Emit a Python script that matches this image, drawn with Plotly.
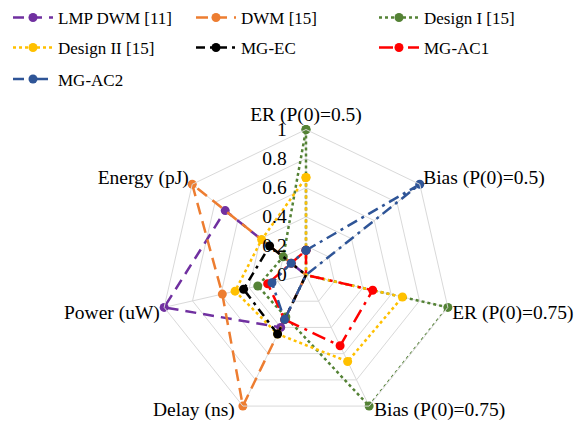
import math
import plotly.graph_objects as go

categories = ["ER (P(0)=0.5)", "Bias (P(0)=0.5)", "ER (P(0)=0.75)",
              "Bias (P(0)=0.75)", "Delay (ns)", "Power (uW)", "Energy (pJ)"]

lmp_dwm = [0.00, 0.00, 0.00, 0.00, 0.40, 1.00, 0.71]
dwm = [0.00, 0.00, 0.00, 0.00, 1.00, 0.59, 1.00]
design_1 = [1.00, 0.00, 1.00, 1.00, 0.32, 0.34, 0.20]
design_2 = [0.67, 0.00, 0.68, 0.66, 0.45, 0.50, 0.39]
mg_ec = [0.00, 0.00, 0.00, 0.00, 0.45, 0.44, 0.32]
mg_ac1 = [0.17, 0.00, 0.47, 0.54, 0.34, 0.27, 0.13]
mg_ac2 = [0.17, 1.00, 0.00, 0.00, 0.34, 0.24, 0.13]

radial_ticks = [0, 0.2, 0.4, 0.6, 0.8, 1.0]

series = [
    ("LMP DWM [11]", lmp_dwm, "#7030A0", "11px,7px", "legend"),
    ("DWM [15]", dwm, "#ED7D31", "12px,7px", "legend"),
    ("Design I [15]", design_1, "#548235", "dot", "legend"),
    ("Design II [15]", design_2, "#FFC000", "dot", "legend2"),
    ("MG-EC", mg_ec, "#000000", "9px,5px,3px,5px", "legend2"),
    ("MG-AC1", mg_ac1, "#FF0000", "14px,6px,3px,6px", "legend2"),
    ("MG-AC2", mg_ac2, "#2F5597", "11px,5px,3px,5px", "legend3"),
]

# labels of the two lower spokes are drawn beside their vertices, as in the original
side_labels = {"Bias (P(0)=0.75)": "left", "Delay (ns)": "right"}

FONT = "Liberation Serif"

fig = go.Figure()
for name, vals, color, dash, leg in series:
    fig.add_trace(go.Scatterpolar(
        r=vals + vals[:1],
        theta=categories + categories[:1],
        mode="lines+markers",
        name=name,
        line=dict(color=color, width=2.5, dash=dash),
        marker=dict(color=color, size=9),
        legend=leg,
    ))

# page body adds an 8px offset; figure sized so that it fits the window exactly
W, H = 578, 416
cx, cy, R = 298, 267, 145.5

def leg(y_px):
    return dict(
        orientation="h", x=0.0, xanchor="left",
        y=1 - y_px / H, yanchor="middle",
        font=dict(family=FONT, size=17, color="black"),
        entrywidth=128, entrywidthmode="pixels", itemwidth=40,
        bgcolor="rgba(0,0,0,0)", itemclick=False,
    )

annotations = []
n = len(categories)
for i, cat in enumerate(categories):
    if cat in side_labels:
        ang = math.radians(i * 360 / n)
        vx = cx + R * math.sin(ang)
        vy = cy - R * math.cos(ang)
        anchor = side_labels[cat]
        annotations.append(dict(
            text=cat, xref="paper", yref="paper",
            x=vx / W, y=1 - (vy + 4) / H,
            xanchor=anchor, yanchor="middle",
            xshift=3 if anchor == "left" else -6,
            showarrow=False,
            font=dict(family=FONT, size=19.5, color="black"),
        ))

fig.update_layout(
    width=W, height=H,
    margin=dict(l=0, r=0, t=0, b=0, autoexpand=False),
    paper_bgcolor="white",
    font=dict(family=FONT, size=19.5, color="black"),
    legend=leg(10), legend2=leg(40), legend3=leg(71.5),
    annotations=annotations,
    polar=dict(
        domain=dict(x=[(cx - R) / W, (cx + R) / W],
                    y=[(H - cy - R) / H, (H - cy + R) / H]),
        bgcolor="white",
        gridshape="linear",
        radialaxis=dict(
            range=[0, 1], tickvals=radial_ticks,
            angle=90, side="counterclockwise", tickangle=90,
            showline=False, ticks="outside", ticklen=12,
            tickcolor="rgba(0,0,0,0)",
            gridcolor="#d9d9d9", gridwidth=1,
            tickfont=dict(family=FONT, size=19.5, color="black"),
        ),
        angularaxis=dict(
            rotation=90, direction="clockwise",
            gridcolor="#d9d9d9", linecolor="#d9d9d9", showline=True,
            ticks="",
            tickmode="array", tickvals=categories,
            ticktext=["" if c in side_labels else c for c in categories],
            tickfont=dict(family=FONT, size=19.5, color="black"),
        ),
    ),
)

fig.write_html("out.html")
